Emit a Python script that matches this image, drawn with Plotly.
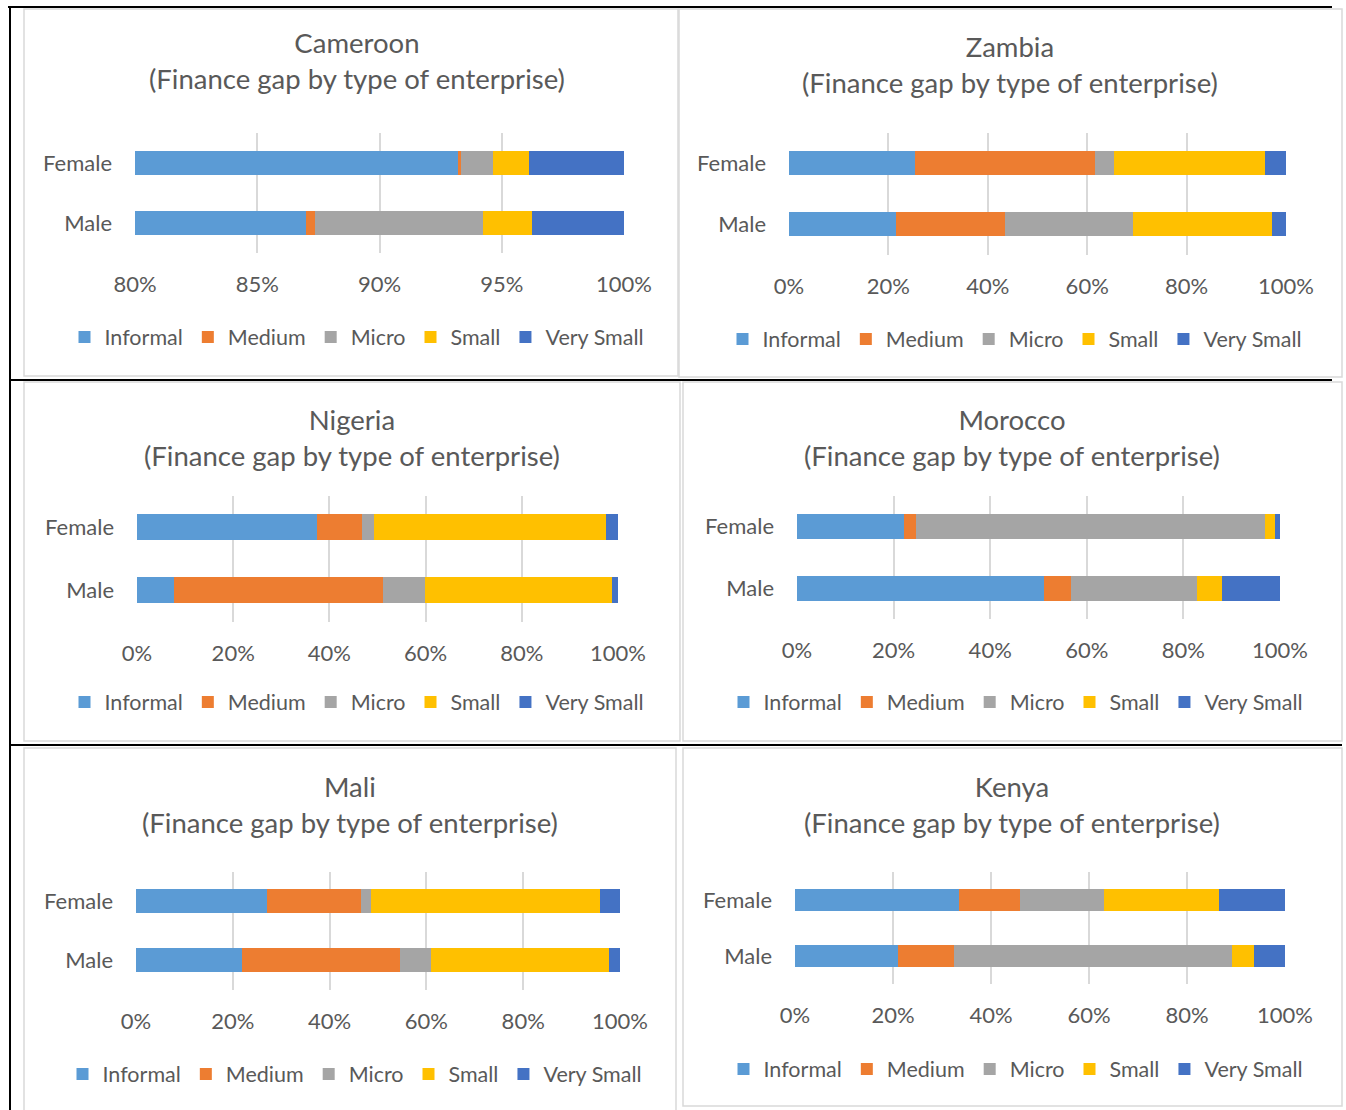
import plotly.graph_objects as go

W, H = 1346, 1110

countries = ["Cameroon", "Zambia", "Nigeria", "Morocco", "Mali", "Kenya"]
subtitle = "(Finance gap by type of enterprise)"
genders = ["Female", "Male"]
types = ["Informal", "Medium", "Micro", "Small", "Very Small"]
colors = ["#5B9BD5", "#ED7D31", "#A5A5A5", "#FFC000", "#4472C4"]

# shares (%) per country: [Female, Male] for each enterprise type
informal = {"Cameroon": [93.2, 87.0], "Zambia": [25.4, 21.5], "Nigeria": [37.4, 7.7],
            "Morocco": [22.1, 51.2], "Mali": [27.0, 21.8], "Kenya": [33.4, 21.0]}
medium = {"Cameroon": [0.15, 0.38], "Zambia": [36.2, 21.9], "Nigeria": [9.3, 43.5],
          "Morocco": [2.5, 5.5], "Mali": [19.4, 32.7], "Kenya": [12.6, 11.4]}
micro = {"Cameroon": [1.3, 6.87], "Zambia": [3.8, 25.9], "Nigeria": [2.6, 8.6],
         "Morocco": [72.2, 26.2], "Mali": [2.1, 6.4], "Kenya": [17.0, 56.7]}
small = {"Cameroon": [1.47, 1.99], "Zambia": [30.4, 27.9], "Nigeria": [48.3, 39.0],
         "Morocco": [2.2, 5.0], "Mali": [47.4, 36.9], "Kenya": [23.5, 4.6]}
very_small = {"Cameroon": [3.88, 3.76], "Zambia": [4.2, 2.8], "Nigeria": [2.4, 1.2],
              "Morocco": [1.0, 12.1], "Mali": [4.1, 2.2], "Kenya": [13.5, 6.3]}
axis_min = {"Cameroon": 80, "Zambia": 0, "Nigeria": 0, "Morocco": 0, "Mali": 0, "Kenya": 0}
axis_step = {"Cameroon": 5, "Zambia": 20, "Nigeria": 20, "Morocco": 20, "Mali": 20, "Kenya": 20}
series = [informal, medium, micro, small, very_small]

# layout geometry in pixels (plot x0, x1, y0, y1, title cx, title cy, legend cx, legend cy)
geo = {
    "Cameroon": (135, 624, 133, 253, 357, 61, 357, 337),
    "Zambia": (789, 1286, 132.5, 254.5, 1010, 65, 1015, 339),
    "Nigeria": (137, 618, 495.5, 621.5, 352, 438, 357, 702),
    "Morocco": (797, 1280, 495.75, 619.25, 1012, 438, 1016, 702),
    "Mali": (136, 620, 871.5, 989.5, 350, 804, 355, 1074),
    "Kenya": (795, 1285, 872, 984, 1012, 804, 1016, 1069),
}
frames = {
    "Cameroon": (24, 9, 678, 376),
    "Zambia": (679, 9, 1342, 377),
    "Nigeria": (24, 382, 680, 741),
    "Morocco": (683, 382, 1342, 741),
    "Mali": (24, 748, 676, 1112),
    "Kenya": (683, 748, 1342, 1106),
}

TXT = "#595959"
FONT = "Lato"


def px(x):
    return x / W


def py(y):
    return 1 - y / H


fig = go.Figure()
layout = dict(
    width=W, height=H, margin=dict(l=0, r=0, t=0, b=0, autoexpand=False),
    paper_bgcolor="white", plot_bgcolor="white",
    barmode="stack", barnorm="percent", bargap=0.6,
    font=dict(family=FONT, color=TXT, size=22),
    annotations=[], shapes=[],
)

for i, c in enumerate(countries):
    k = "" if i == 0 else str(i + 1)
    lg = "legend" + k
    x0, x1, y0, y1, tcx, tcy, lcx, lcy = geo[c]
    for t, col, s in zip(types, colors, series):
        fig.add_trace(go.Bar(
            y=genders, x=s[c], name=t, orientation="h",
            marker=dict(color=col, line=dict(width=0)),
            xaxis="x" + k, yaxis="y" + k, legend=lg,
            hoverinfo="x+y+name",
        ))
    lo = axis_min[c]
    layout["xaxis" + k] = dict(
        domain=[px(x0), px(x1)], anchor="y" + k, range=[lo, 100],
        tick0=lo, dtick=axis_step[c], ticksuffix="%",
        showgrid=True, gridcolor="#D9D9D9", gridwidth=2,
        zeroline=False, showline=False, ticks="", automargin=False,
        tickfont=dict(size=22, color=TXT), ticklabelstandoff=16,
        fixedrange=True,
    )
    layout["yaxis" + k] = dict(
        domain=[py(y1), py(y0)], anchor="x" + k, type="category",
        categoryorder="array", categoryarray=["Male", "Female"],
        showgrid=False, zeroline=False, showline=False, ticks="", automargin=False,
        tickfont=dict(size=22, color=TXT), ticklabelstandoff=22,
        fixedrange=True,
    )
    layout[lg] = dict(
        orientation="h", x=px(lcx), y=py(lcy), xanchor="center", yanchor="middle",
        font=dict(size=21.5, color=TXT), bgcolor="rgba(0,0,0,0)",
        itemwidth=30, traceorder="normal", itemclick=False, itemdoubleclick=False,
    )
    layout["annotations"].append(dict(
        text=c + "<br>" + subtitle, x=px(tcx), y=py(tcy), xref="paper", yref="paper",
        xanchor="center", yanchor="middle", showarrow=False,
        font=dict(size=27.5, color=TXT, family=FONT),
    ))
    fx0, fy0, fx1, fy1 = frames[c]
    layout["shapes"].append(dict(
        type="rect", xref="paper", yref="paper",
        x0=px(fx0), x1=px(fx1), y0=py(fy1), y1=py(fy0),
        line=dict(color="#D9D9D9", width=1.5), layer="below",
    ))

# table borders (black)
for (ax0, ay0, ax1, ay1) in [(8, 7, 1332, 7), (10, 7, 10, 1112), (10, 380, 1332, 380), (10, 745, 1342, 745)]:
    layout["shapes"].append(dict(
        type="line", xref="paper", yref="paper",
        x0=px(ax0), x1=px(ax1), y0=py(ay0), y1=py(ay1),
        line=dict(color="black", width=2), layer="above",
    ))

fig.update_layout(**layout)
fig.write_html("out.html")
